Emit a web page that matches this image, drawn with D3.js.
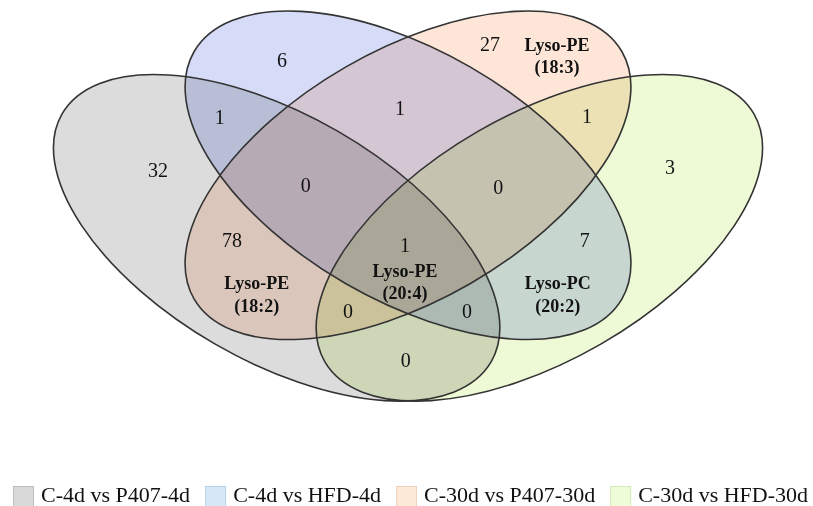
<!DOCTYPE html>
<html>
<head>
<meta charset="utf-8">
<script src="https://cdn.jsdelivr.net/npm/d3@7"></script>
<style>
  html, body { margin: 0; padding: 0; background: #fff; }
  svg { display: block; }
  .num { font-family: "Liberation Serif", "Times New Roman", serif; font-size: 20px; fill: #111; }
  .lipid { font-family: "Liberation Serif", "Times New Roman", serif; font-size: 18px; font-weight: bold; fill: #111; }
  .legend text { font-family: "Liberation Serif", "Times New Roman", serif; font-size: 22px; fill: #111; }
</style>
</head>
<body>
<svg id="chart" width="813" height="506"></svg>
<script>
//
// Data
//
// the four comparisons (A, B, C, D)
const setNames = ['C-4d vs P407-4d', 'C-4d vs HFD-4d', 'C-30d vs P407-30d', 'C-30d vs HFD-30d'];
// region keys and how many lipids fall in each
const regionKeys = ['A', 'B', 'C', 'D', 'AB', 'BC', 'CD', 'ABC', 'BCD', 'AC', 'ABCD', 'BD', 'ACD', 'ABD', 'AD'];
const regionCounts = [32, 6, 27, 3, 1, 1, 1, 0, 0, 78, 1, 7, 0, 0, 0];
// named lipids written inside some regions
const lipidRegions = ['C', 'ABCD', 'AC', 'BD'];
const lipidNames = [['Lyso-PE', '(18:3)'], ['Lyso-PE', '(20:4)'], ['Lyso-PE', '(18:2)'], ['Lyso-PC', '(20:2)']];

//
// Layout (diagram units, 1 unit = diagram width)
//
const ellipses = [
  {cx: 0.315, cy: 0.318, a: 0.349, b: 0.173, rot: 30},
  {cx: 0.500, cy: 0.230, a: 0.348, b: 0.176, rot: 30},
  {cx: 0.500, cy: 0.230, a: 0.348, b: 0.176, rot: -30},
  {cx: 0.685, cy: 0.318, a: 0.349, b: 0.173, rot: -30}
];
const countPos = {
  A: [0.148, 0.2225], B: [0.3225, 0.0676], C: [0.6155, 0.045], D: [0.869, 0.218],
  AB: [0.235, 0.148], BC: [0.4887, 0.135], CD: [0.752, 0.1465],
  ABC: [0.356, 0.2437], BCD: [0.627, 0.2465],
  AC: [0.252, 0.321], ABCD: [0.4958, 0.328], BD: [0.749, 0.321],
  ACD: [0.4155, 0.421], ABD: [0.583, 0.421], AD: [0.497, 0.490]
};
const lipidPos = {C: [0.71, 0.0606], ABCD: [0.4958, 0.379], AC: [0.287, 0.397], BD: [0.711, 0.397]};

// colours
const fillColors = ['#dcdcdc', '#d6dcf8', '#fde6d8', '#eefad6'];
const legendColors = ['#d9d9d9', '#d5e9f9', '#fde9d8', '#eefcd8'];
const legendStrokes = ['#bdbdbd', '#b7d0e6', '#efd2bb', '#d3e9bd'];
const lineColor = '#333';

//
// Scales
//
const svg = d3.select('#chart');
const x = d3.scaleLinear().domain([0, 1]).range([53, 763]);
const y = d3.scaleLinear().domain([0, 1]).range([12, 722]);
const len = d3.scaleLinear().domain([0, 1]).range([0, 710]);

//
// Ellipses
//
const shapes = svg.append('g');
shapes.selectAll('ellipse.fill')
  .data(ellipses)
  .join('ellipse')
    .attr('class', 'fill')
    .attr('cx', d => x(d.cx))
    .attr('cy', d => y(d.cy))
    .attr('rx', d => len(d.a))
    .attr('ry', d => len(d.b))
    .attr('transform', d => `rotate(${d.rot},${x(d.cx)},${y(d.cy)})`)
    .attr('fill', (d, i) => fillColors[i])
    .style('mix-blend-mode', 'multiply');

shapes.selectAll('ellipse.line')
  .data(ellipses)
  .join('ellipse')
    .attr('class', 'line')
    .attr('cx', d => x(d.cx))
    .attr('cy', d => y(d.cy))
    .attr('rx', d => len(d.a))
    .attr('ry', d => len(d.b))
    .attr('transform', d => `rotate(${d.rot},${x(d.cx)},${y(d.cy)})`)
    .attr('fill', 'none')
    .attr('stroke', lineColor)
    .attr('stroke-width', 1.6);

//
// Region counts
//
svg.append('g').selectAll('text')
  .data(regionKeys)
  .join('text')
    .attr('class', 'num')
    .attr('x', k => x(countPos[k][0]))
    .attr('y', k => y(countPos[k][1]))
    .attr('dy', '0.35em')
    .attr('text-anchor', 'middle')
    .text((k, i) => regionCounts[i]);

//
// Lipid names
//
const lipids = svg.append('g').selectAll('text')
  .data(lipidRegions)
  .join('text')
    .attr('class', 'lipid')
    .attr('text-anchor', 'middle')
    .attr('x', k => x(lipidPos[k][0]))
    .attr('y', k => y(lipidPos[k][1]));

lipids.selectAll('tspan')
  .data((k, i) => lipidNames[i])
  .join('tspan')
    .attr('x', function () { return this.parentNode.getAttribute('x'); })
    .attr('dy', (d, j) => j === 0 ? '-0.25em' : '1.25em')
    .text(d => d);

//
// Legend
//
const legend = svg.append('g').attr('class', 'legend');
let lx = 13;
setNames.forEach((name, i) => {
  legend.append('rect')
    .attr('x', lx + 0.5).attr('y', 486.5)
    .attr('width', 20).attr('height', 20)
    .attr('fill', legendColors[i])
    .attr('stroke', legendStrokes[i]);
  const t = legend.append('text')
    .attr('x', lx + 28).attr('y', 502)
    .text(name);
  lx += 28 + t.node().getComputedTextLength() + 15;
});
</script>
</body>
</html>
